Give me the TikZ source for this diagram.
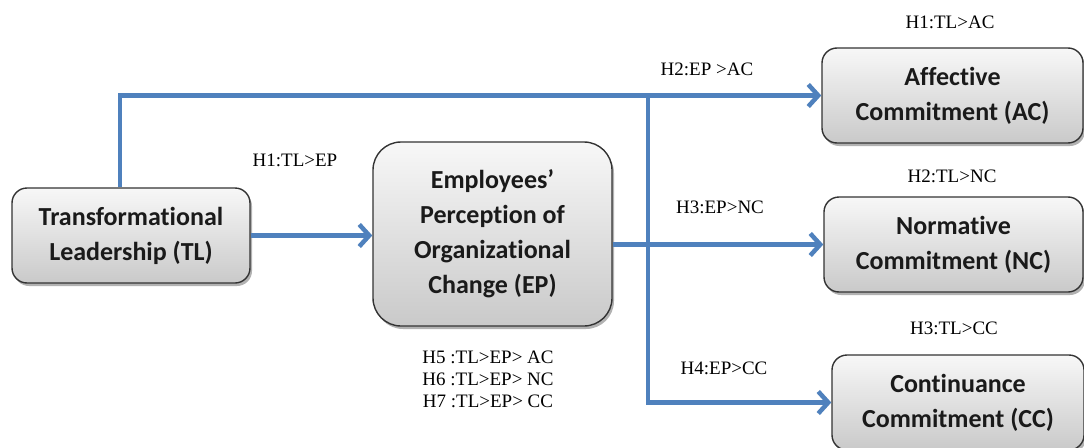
\documentclass[tikz,border=0pt]{standalone}
\usepackage{fontspec}
\setmainfont{Liberation Serif}
\newfontfamily\boxfont[Ligatures={NoCommon}]{Carlito}
\usetikzlibrary{arrows.meta,shadows}
\definecolor{linkblue}{HTML}{4F81BD}
\definecolor{boxtext}{HTML}{1A1A1A}
\tikzset{
  concept/.style={draw=black!80, line width=1.4pt, rounded corners=15pt,
    top color=gray!6, bottom color=gray!42, text=boxtext,
    align=center, inner sep=0pt,
    font=\boxfont\bfseries\fontsize{26}{35}\selectfont,
    drop shadow={shadow xshift=2pt, shadow yshift=-3pt, opacity=0.3, fill=black}},
  link/.style={draw=linkblue, line width=4.5pt,
    -{Straight Barb[length=10pt,width=22pt,line width=4.5pt]}},
  hyp/.style={inner sep=0pt, font=\fontsize{19}{22}\selectfont, align=center}
}
\begin{document}
\begin{tikzpicture}[x=1pt, y=-1pt]
\useasboundingbox (0,0) rectangle (1084,447);

% constructs
\node[concept, minimum width=238pt, minimum height=95pt] (tl) at (131,235.5)
  {Transformational\\Leadership (TL)};
\node[concept, rounded corners=28pt, minimum width=239pt, minimum height=184pt] (ep) at (492.5,234)
  {Employees’\\Perception of\\Organizational\\Change (EP)};
\node[concept, minimum width=261pt, minimum height=95pt] (ac) at (952.5,95.5)
  {Affective\\Commitment (AC)};
\node[concept, minimum width=259pt, minimum height=95pt] (nc) at (953.5,244.5)
  {Normative\\Commitment (NC)};
\node[concept, minimum width=252pt, minimum height=95pt] (cc) at (958,402.5)
  {Continuance\\Commitment (CC)};

% branch point of the outcome paths
\coordinate (split) at (648,97);

% connectors
\draw[link] (tl.east) -- (tl.east -| ep.west);
\draw[link] ([xshift=-11pt]tl.north) |- (ac.west);
\draw[link] (ep.east |- nc.west) -- (nc.west);
\draw[link] (split) |- (cc.west);

% hypothesis labels
\node[hyp] (h1ep) at (295,160) {H1:TL>EP};
\node[hyp] (h2ep) at (707,69) {H2:EP >AC};
\node[hyp] (h1ac) at (950,22) {H1:TL>AC};
\node[hyp] (h2nc) at (952,176) {H2:TL>NC};
\node[hyp] (h3ep) at (720,207) {H3:EP>NC};
\node[hyp] (h3cc) at (954,328) {H3:TL>CC};
\node[hyp] (h4ep) at (724,368) {H4:EP>CC};
\node[hyp] (h567) at (488,379) {H5 :TL>EP> AC\\H6 :TL>EP> NC\\H7 :TL>EP> CC};
\end{tikzpicture}
\end{document}
